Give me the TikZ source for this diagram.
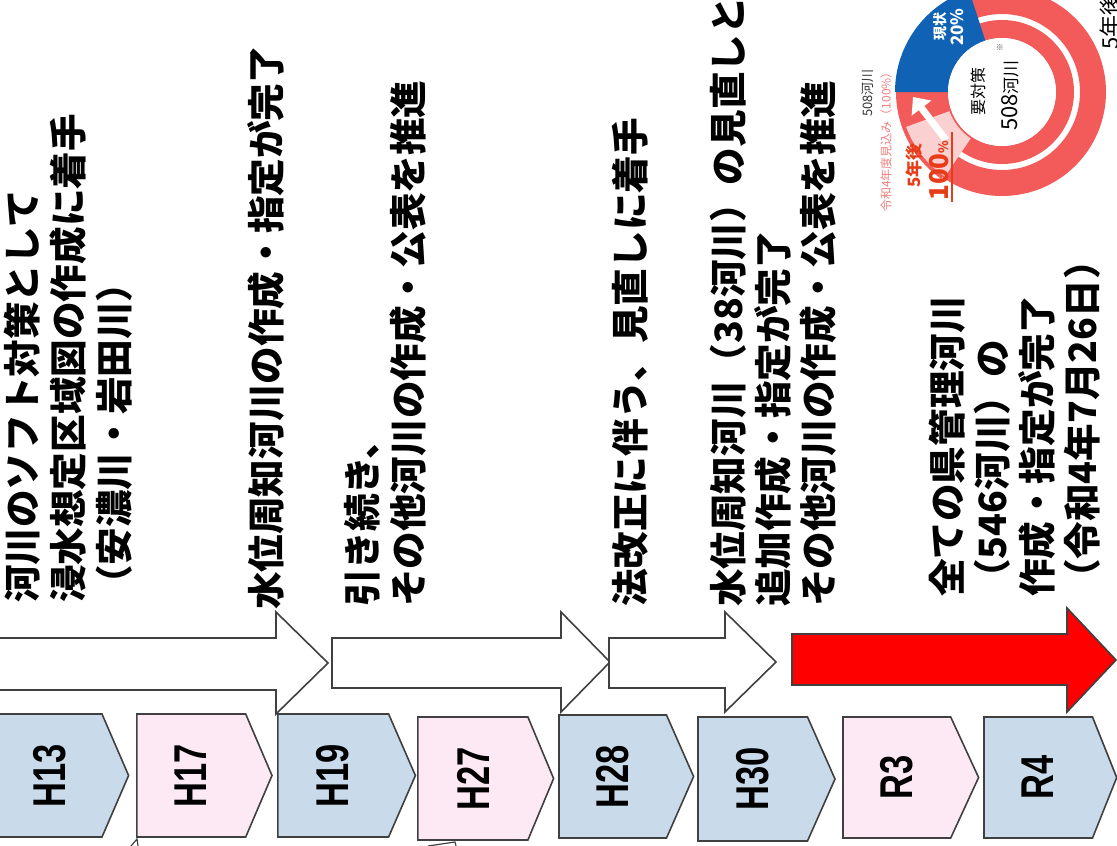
\documentclass[tikz,border=0pt]{standalone}
\usepackage{fontspec}
\newfontfamily\jp{Noto Sans CJK JP}
\newfontfamily\lat{Liberation Sans}
\usetikzlibrary{arrows.meta}
\definecolor{boxblue}{RGB}{201,219,235}
\definecolor{boxpink}{RGB}{253,233,243}
\definecolor{edgegray}{RGB}{64,64,64}
\definecolor{ringred}{RGB}{243,90,90}
\definecolor{chartblue}{RGB}{16,98,180}
\definecolor{wedgepink}{RGB}{250,208,208}
\definecolor{orangered}{RGB}{232,60,24}
\definecolor{softpink}{RGB}{238,128,128}
\definecolor{arrowred}{RGB}{255,0,0}
\newcommand\annsec[5]{\fill[#1] (#2:#4) arc[start angle=#2,end angle=#3,radius=#4] -- (#3:#5) arc[start angle=#3,end angle=#2,radius=#5] -- cycle;}
\newcommand\pbox[6]{\draw[boxedge,fill=#6] (#1,#2) -- (#4,#2) -- (#5,{(#2+#3)/2}) -- (#4,#3) -- (#1,#3) -- cycle;}
\newcommand\nrw[1]{\scalebox{0.75}[1]{#1}}
\begin{document}
\begin{tikzpicture}[x=1pt,y=-1pt,
  boxedge/.style={draw=edgegray,line width=1.6pt,line join=miter},
  blockarrow/.style={draw=edgegray,line width=1.6pt,fill=white,line join=miter},
  yrlabel/.style={rotate=90,inner sep=0pt,font=\lat\bfseries\fontsize{46}{46}\selectfont},
  jtxt/.style={rotate=90,anchor=north west,inner sep=0pt,align=left,font=\jp\bfseries\fontsize{37.6}{46}\selectfont},
  ctxt/.style={rotate=90,anchor=west,inner sep=0pt}]
\useasboundingbox (0,0) rectangle (1117,846);
\begin{scope}
\clip (0,0) rectangle (1117,846);
\fill[white] (0,0) rectangle (1117,846);
% block arrows
\draw[blockarrow] (-5,638) -- (276,638) -- (276,612) -- (328,663) -- (276,714) -- (276,690) -- (-5,690) -- cycle;
\draw[blockarrow] (332,638) -- (561,638) -- (561,612) -- (610,662) -- (561,712) -- (561,688) -- (332,688) -- cycle;
\draw[blockarrow] (609,638) -- (725,638) -- (725,612) -- (776,662) -- (725,712) -- (725,688) -- (609,688) -- cycle;
\draw[blockarrow,fill=arrowred] (792,634) -- (1067,634) -- (1067,608) -- (1116,660) -- (1067,712) -- (1067,685) -- (792,685) -- cycle;
% year boxes
\pbox{-5}{714}{837}{102}{128.6}{boxblue}
\pbox{136.8}{714}{837}{245.7}{272}{boxpink}
\pbox{277.9}{714}{837}{388.6}{415.4}{boxblue}
\pbox{417.9}{717}{840}{527.9}{553.6}{boxpink}
\pbox{559}{715}{838}{666.5}{693.6}{boxblue}
\pbox{698}{717}{841}{807.5}{835}{boxblue}
\pbox{843}{717}{838}{950.7}{978.6}{boxpink}
\pbox{984}{717}{838}{1092.5}{1116.7}{boxblue}
\node[yrlabel] (h13) at (50,775.5) {\nrw{H13}};
\node[yrlabel] (h17) at (191,775.5) {\nrw{H17}};
\node[yrlabel] (h19) at (333,775.5) {\nrw{H19}};
\node[yrlabel] (h27) at (473,778.5) {\nrw{H27}};
\node[yrlabel] (h28) at (613,776.5) {\nrw{H28}};
\node[yrlabel] (h30) at (753,779) {\nrw{H30}};
\node[yrlabel] (r3) at (897,777.5) {\nrw{R3}};
\node[yrlabel] (r4) at (1038,777.5) {\nrw{R4}};
% fragments at the bottom edge
\draw[boxedge,line width=1.2pt] (131,846) -- (137,839) -- (138,846);
\draw[boxedge,line width=1.2pt] (428,846) -- (455,842) -- (456,846);
% texts
\node[jtxt] (t1) at (4,603) {河川のソフト対策として\\浸水想定区域図の作成に着手\\（安濃川・岩田川）};
\node[jtxt] (t2) at (247,610) {水位周知河川の作成・指定が完了};
\node[jtxt] (t3) at (344,607) {引き続き、\\その他河川の作成・公表を推進};
\node[jtxt] (t4) at (612,607) {法改正に伴う、見直しに着手};
\node[jtxt,font=\jp\bfseries\fontsize{37.6}{45}\selectfont] (t5) at (710,607) {水位周知河川（38河川）の見直しと\\追加作成・指定が完了\\その他河川の作成・公表を推進};
\node[jtxt,font=\jp\bfseries\fontsize{37.6}{45}\selectfont] (t6) at (929,597) {全ての県管理河川\\（546河川）の\\作成・指定が完了\\（令和4年7月26日）};
% donut chart
\begin{scope}[shift={(1002,92)},yscale=-1]
\annsec{ringred}{0}{360}{78}{104}
\annsec{ringred}{0}{360}{54}{72}
\annsec{ringred}{180}{235}{54}{106}
\annsec{wedgepink}{200}{236}{56}{102}
\annsec{chartblue}{108}{180}{54}{107}
\fill[white] (0,0) circle[radius=54];
\end{scope}
\draw[white,line width=7pt,-{Triangle[length=14pt,width=24pt]}] (946,140) -- (913,97);
\node[ctxt,font=\jp\fontsize{13}{13}\selectfont,text=black!80] (c508) at (868,117) {508河川};
\node[ctxt,font=\jp\fontsize{12}{12}\selectfont,text=softpink] (cmikomi) at (886,212) {令和4年度見込み（100\%）};
\node[ctxt,font=\jp\bfseries\fontsize{17}{17}\selectfont,text=orangered] (c5y) at (914,188) {5年後};
\node[ctxt,font=\jp\bfseries\fontsize{26}{26}\selectfont,text=orangered] (c100) at (939,201) {100{\fontsize{13}{13}\selectfont\%}};
\draw[orangered,line width=1.5pt] (952,132) -- (952,202);
\node[ctxt,font=\jp\bfseries\fontsize{14}{14}\selectfont,text=white] (cgen) at (940,41) {現状};
\node[ctxt,font=\jp\bfseries\fontsize{17}{17}\selectfont,text=white] (c20) at (957,46) {20\%};
\node[ctxt,font=\jp\fontsize{16}{16}\selectfont,text=black] (cyo) at (978,116) {要対策};
\node[ctxt,font=\jp\fontsize{22}{22}\selectfont,text=black] (c508b) at (1010,131) {508{\fontsize{17}{17}\selectfont 河川}};
\node[ctxt,font=\jp\fontsize{8}{8}\selectfont,text=black!70] (ckome) at (1000,52) {※};
\node[ctxt,font=\jp\fontsize{22}{22}\selectfont,text=black] (c5r) at (1110,50) {5年後};
\end{scope}
\end{tikzpicture}
\end{document}
